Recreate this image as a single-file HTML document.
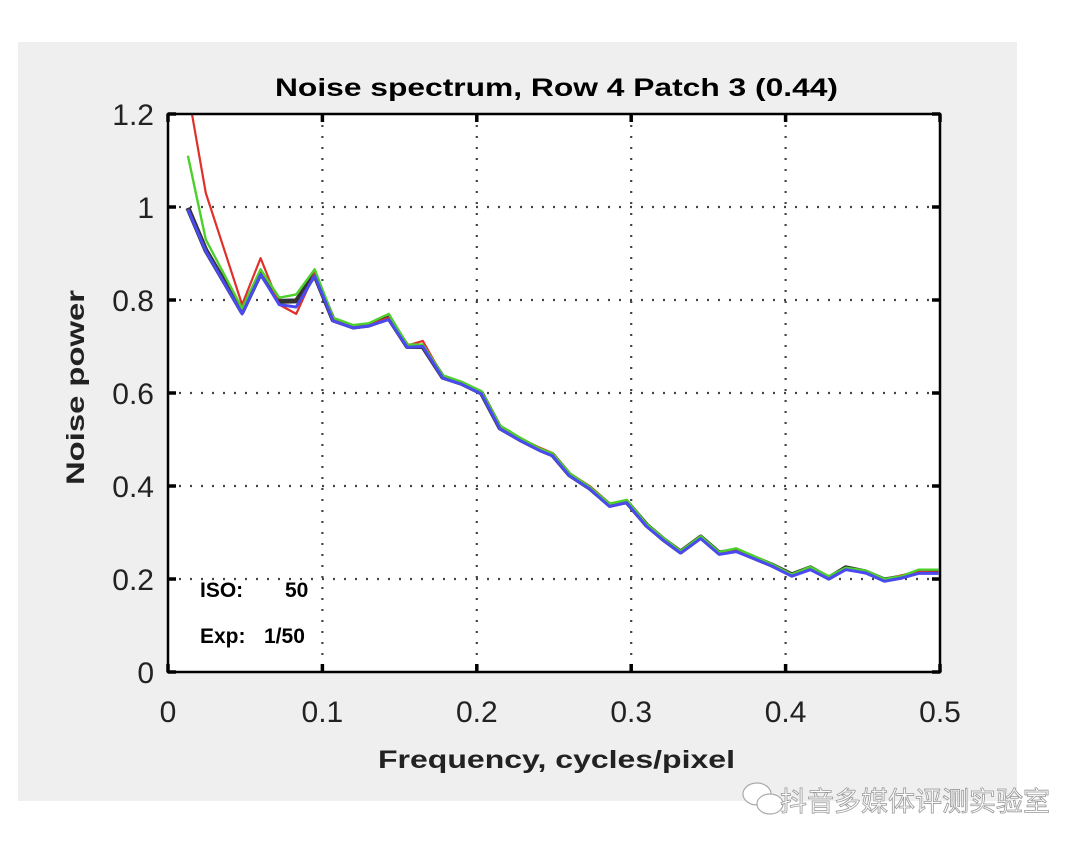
<!DOCTYPE html>
<html><head><meta charset="utf-8"><style>
body{margin:0;background:#fff;width:1080px;height:850px;overflow:hidden;font-family:"Liberation Sans","Noto Sans CJK SC",sans-serif}
</style></head><body>
<svg id="c" width="1080" height="850" xmlns="http://www.w3.org/2000/svg">
<rect x="18" y="42" width="999" height="759" fill="#efefef"/>
<rect x="168" y="114" width="772" height="558" fill="#fff"/>
<g id="grid"></g>
<g id="series"></g>
<rect x="168" y="114" width="772" height="558" fill="none" stroke="#000" stroke-width="2.5"/>
<g id="ticks"></g>
<text x="275" y="96" font-size="25" font-weight="bold" textLength="563" lengthAdjust="spacingAndGlyphs">Noise spectrum, Row 4 Patch 3 (0.44)</text>
<text x="378" y="768" font-size="25" font-weight="bold" fill="#222" textLength="357" lengthAdjust="spacingAndGlyphs">Frequency, cycles/pixel</text>
<text transform="translate(84,485) rotate(-90)" font-size="25" font-weight="bold" fill="#222" textLength="195" lengthAdjust="spacingAndGlyphs">Noise power</text>
<text x="200" y="597" font-size="21" font-weight="bold">ISO:<tspan x="285">50</tspan></text>
<text x="200" y="643" font-size="21" font-weight="bold">Exp:<tspan x="264">1/50</tspan></text>
<g fill="#fff" stroke="#aaa" stroke-width="1.2">
<ellipse cx="757" cy="794" rx="14" ry="11"/><ellipse cx="770" cy="804" rx="13" ry="10"/>
</g>
<text x="780" y="811" font-size="27" fill="#fff" stroke="#999" stroke-width="0.8">抖音多媒体评测实验室</text>
</svg>
<script>
const freq=[0.0129,0.0245,0.048,0.060,0.072,0.083,0.095,0.107,0.120,0.130,0.143,0.155,0.165,0.178,0.190,0.203,0.215,0.228,0.241,0.249,0.260,0.273,0.286,0.297,0.310,0.321,0.332,0.345,0.357,0.368,0.383,0.391,0.404,0.416,0.428,0.439,0.452,0.464,0.475,0.486,0.499];
const blackVals=[0.998,0.907,0.774,0.858,0.797,0.798,0.854,0.757,0.742,0.746,0.761,0.700,0.700,0.634,0.621,0.600,0.525,0.500,0.478,0.467,0.424,0.396,0.359,0.366,0.316,0.285,0.258,0.290,0.256,0.262,0.241,0.230,0.209,0.224,0.202,0.224,0.215,0.198,0.204,0.215,0.215];
const blueVals=[0.995,0.905,0.770,0.855,0.790,0.785,0.852,0.755,0.740,0.744,0.758,0.698,0.700,0.632,0.619,0.598,0.523,0.498,0.476,0.465,0.422,0.394,0.356,0.364,0.313,0.283,0.256,0.287,0.253,0.259,0.239,0.228,0.206,0.220,0.200,0.220,0.213,0.195,0.202,0.212,0.212];
const greenVals=[1.110,0.930,0.782,0.866,0.805,0.812,0.866,0.762,0.746,0.750,0.770,0.704,0.704,0.638,0.624,0.604,0.530,0.504,0.480,0.470,0.428,0.398,0.362,0.370,0.318,0.288,0.260,0.292,0.258,0.266,0.244,0.232,0.210,0.226,0.206,0.224,0.218,0.200,0.206,0.220,0.220];
const redVals=[1.250,1.030,0.790,0.890,0.790,0.770,0.858,0.757,0.742,0.746,0.762,0.702,0.712,0.636,0.624,0.602,0.527,0.502,0.482,0.471,0.428,0.400,0.362,0.368,0.316,0.286,0.258,0.290,0.256,0.260,0.244,0.232,0.210,0.226,0.202,0.222,0.216,0.198,0.208,0.215,0.214];
const xTicks=[0,0.1,0.2,0.3,0.4,0.5];
const yTicks=[0,0.2,0.4,0.6,0.8,1,1.2];
const X0=168,X1=940,Y0=672,Y1=114;
const xs=v=>X0+(v/0.5)*(X1-X0);
const ys=v=>Y0-(v/1.2)*(Y0-Y1);
const NS='http://www.w3.org/2000/svg';
const grid=document.getElementById('grid'),ticks=document.getElementById('ticks'),series=document.getElementById('series');
function mk(tag,attrs,parent){const e=document.createElementNS(NS,tag);for(const k in attrs)e.setAttribute(k,attrs[k]);parent.appendChild(e);return e;}
xTicks.forEach(t=>{
  const x=xs(t);
  if(t>0&&t<0.5){const g=mk('line',{x1:x,x2:x,y1:Y1,y2:Y0,stroke:'#444','stroke-width':2.2,'stroke-dasharray':'2 9'},grid);
  
  }
  const tk=mk('path',{d:`M${x},${Y0}v-8M${x},${Y1}v8`,stroke:'#000','stroke-width':3.5},ticks);
  
  
  const l=mk('text',{x:x,y:Y0+50,'text-anchor':'middle','font-size':30,fill:'#222'},ticks);l.textContent=String(t);
  
  
});
yTicks.forEach(t=>{
  const y=ys(t);
  if(t>0&&t<1.2){const g=mk('line',{x1:X0,x2:X1,y1:y,y2:y,stroke:'#444','stroke-width':2.2,'stroke-dasharray':'2 9'},grid);
  
  }
  const tk=mk('path',{d:`M${X0},${y}h8M${X1},${y}h-8`,stroke:'#000','stroke-width':3.5},ticks);
  
  
  const l=mk('text',{x:X0-14,y:y+11,'text-anchor':'end','font-size':30,fill:'#222'},ticks);l.textContent=String(t);
  
  
});
mk('clipPath',{id:'clip'},series);
mk('rect',{x:X0,y:Y1,width:X1-X0,height:Y0-Y1},document.getElementById('clip'));
const defs=[['black',blackVals,'#333',5],['red',redVals,'#e0302a',2.2],['green',greenVals,'#4ed02c',2.4],['blue',blueVals,'#4a4af0',3]];
defs.forEach(([n,vals,col,w])=>{
  const d=vals.map((v,i)=>(i?'L':'M')+xs(freq[i]).toFixed(1)+','+ys(v).toFixed(1)).join('');
  const p=mk('path',{d:d,fill:'none',stroke:col,'stroke-width':w,'stroke-linejoin':'round','clip-path':'url(#clip)'},series);
  
  
});
</script>
</body></html>
